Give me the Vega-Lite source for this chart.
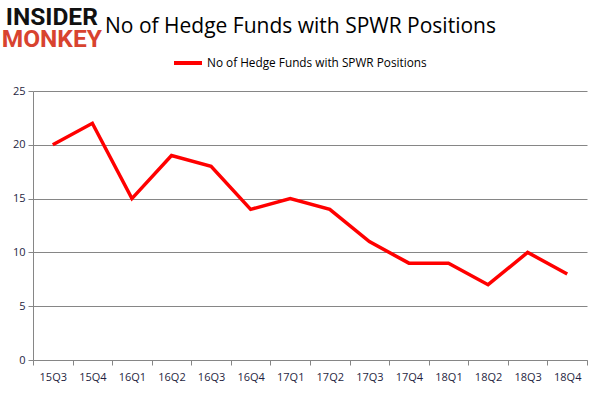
{
  "$schema": "https://vega.github.io/schema/vega-lite/v6.json",
  "width": 554,
  "height": 269,
  "autosize": "none",
  "padding": {"left": 33, "top": 91, "right": 14, "bottom": 36},
  "background": "white",
  "title": {
    "text": "No of Hedge Funds with SPWR Positions",
    "anchor": "start",
    "frame": "group",
    "dx": 72,
    "dy": 44,
    "offset": 12,
    "fontSize": 21,
    "font": "Open Sans",
    "fontWeight": "normal",
    "color": "#000000"
  },
  "config": {
    "view": {"stroke": null},
    "axis": {"labelFont": "Open Sans", "labelFontSize": 11, "labelColor": "#1f1f3f"}
  },
  "datasets": {
    "funds": [
      {"quarter": "15Q3", "funds": 20, "series": "No of Hedge Funds with SPWR Positions"},
      {"quarter": "15Q4", "funds": 22, "series": "No of Hedge Funds with SPWR Positions"},
      {"quarter": "16Q1", "funds": 15, "series": "No of Hedge Funds with SPWR Positions"},
      {"quarter": "16Q2", "funds": 19, "series": "No of Hedge Funds with SPWR Positions"},
      {"quarter": "16Q3", "funds": 18, "series": "No of Hedge Funds with SPWR Positions"},
      {"quarter": "16Q4", "funds": 14, "series": "No of Hedge Funds with SPWR Positions"},
      {"quarter": "17Q1", "funds": 15, "series": "No of Hedge Funds with SPWR Positions"},
      {"quarter": "17Q2", "funds": 14, "series": "No of Hedge Funds with SPWR Positions"},
      {"quarter": "17Q3", "funds": 11, "series": "No of Hedge Funds with SPWR Positions"},
      {"quarter": "17Q4", "funds": 9, "series": "No of Hedge Funds with SPWR Positions"},
      {"quarter": "18Q1", "funds": 9, "series": "No of Hedge Funds with SPWR Positions"},
      {"quarter": "18Q2", "funds": 7, "series": "No of Hedge Funds with SPWR Positions"},
      {"quarter": "18Q3", "funds": 10, "series": "No of Hedge Funds with SPWR Positions"},
      {"quarter": "18Q4", "funds": 8, "series": "No of Hedge Funds with SPWR Positions"}
    ],
    "logo": [
      {"quarter": "15Q3", "level": 31.83, "word": "INSIDER", "part": "top"},
      {"quarter": "15Q3", "level": 29.74, "word": "MONKEY", "part": "bottom"}
    ]
  },
  "layer": [
    {
      "data": {"name": "funds"},
      "mark": {"type": "line", "strokeWidth": 3.5, "clip": false},
      "encoding": {
        "x": {
          "field": "quarter",
          "type": "ordinal",
          "bandPosition": 0.5,
          "scale": {"type": "band", "paddingInner": 0, "paddingOuter": 0},
          "axis": {
            "title": null,
            "labelAngle": 0,
            "tickBand": "extent",
            "domainColor": "#868686",
            "tickColor": "#868686",
            "tickSize": 5,
            "labelPadding": 6,
            "grid": false
          }
        },
        "y": {
          "field": "funds",
          "type": "quantitative",
          "scale": {"domain": [0, 25], "nice": false, "zero": false},
          "axis": {
            "title": null,
            "values": [0, 5, 10, 15, 20, 25],
            "gridColor": "#868686",
            "gridOpacity": 1,
            "domainColor": "#868686",
            "tickColor": "#868686",
            "tickSize": 5,
            "labelPadding": 3
          }
        },
        "color": {
          "field": "series",
          "type": "nominal",
          "scale": {"range": ["#ff0000"]},
          "legend": {
            "title": null,
            "orient": "none",
            "legendX": 139,
            "legendY": -44,
            "symbolType": "stroke",
            "symbolSize": 784,
            "symbolStrokeWidth": 4,
            "labelOffset": 3,
            "labelLimit": 400,
            "labelFont": "Open Sans",
            "labelFontSize": 11.8,
            "labelColor": "#000000"
          }
        }
      }
    },
    {
      "data": {"name": "logo"},
      "mark": {"type": "text", "font": "Roboto", "fontWeight": "bold", "fontSize": 24.5, "align": "center", "baseline": "middle", "dx": -1, "clip": false},
      "encoding": {
        "x": {"field": "quarter", "type": "ordinal", "bandPosition": 0.5},
        "y": {"field": "level", "type": "quantitative"},
        "text": {"field": "word"},
        "color": {"field": "part", "type": "nominal", "scale": {"domain": ["top", "bottom"], "range": ["#111111", "#d8432f"]}, "legend": null}
      }
    }
  ],
  "resolve": {"scale": {"color": "independent"}}
}
